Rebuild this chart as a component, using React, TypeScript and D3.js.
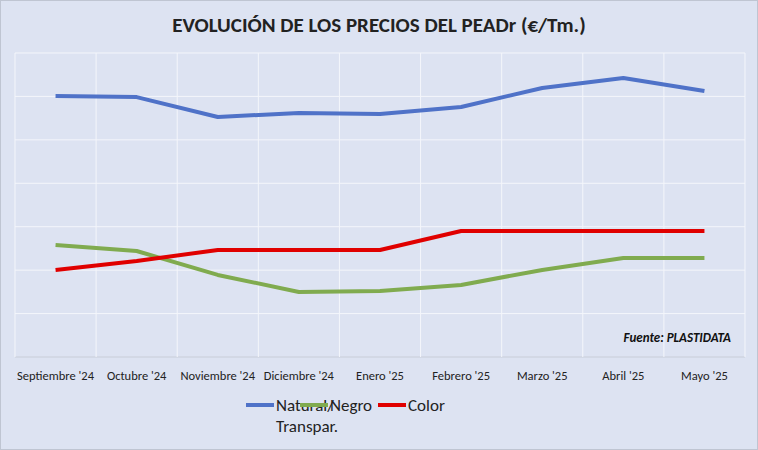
import { useEffect, useRef } from "react";
import * as d3 from "d3";

const categories = ["Septiembre '24", "Octubre '24", "Noviembre '24", "Diciembre '24", "Enero '25", "Febrero '25", "Marzo '25", "Abril '25", "Mayo '25"];
const natural = [1202, 1197, 1105, 1124, 1119, 1151, 1239, 1285, 1225];
const negro = [516, 488, 378, 299, 304, 332, 401, 456, 456];
const color = [401, 442, 493, 493, 493, 580, 580, 580, 580];
const yTicks = [0, 200, 400, 600, 800, 1000, 1200, 1400];

const series = [
  { name: "Natural/", name2: "Transpar.", values: natural, stroke: "#4f72c8" },
  { name: "Negro", name2: "", values: negro, stroke: "#80ab4f" },
  { name: "Color", name2: "", values: color, stroke: "#e00000" },
];

export default function App() {
  const ref = useRef<SVGSVGElement>(null);
  useEffect(() => {
    const svg = d3.select(ref.current);
    svg.selectAll("*").remove();
    const font = "Carlito, 'Liberation Sans', Lato, sans-serif";
    svg.append("rect").attr("x", 0.5).attr("y", 0.5).attr("width", 757).attr("height", 449)
      .attr("fill", "#dde3f2").attr("stroke", "#bfc5d2");
    const x = d3.scaleBand().domain(categories).range([15, 745]);
    const y = d3.scaleLinear().domain([0, 1400]).range([357, 53]);

    yTicks.forEach((t) => {
      svg.append("line").attr("x1", 15).attr("x2", 745).attr("y1", y(t)).attr("y2", y(t))
        .attr("stroke", t === 0 ? "#c8cdd8" : "#f4f6fb").attr("stroke-width", 1);
    });
    for (let i = 0; i <= categories.length; i++) {
      const xx = 15 + i * x.bandwidth();
      svg.append("line").attr("x1", xx).attr("x2", xx).attr("y1", 53).attr("y2", 357)
        .attr("stroke", "#f4f6fb");
    }
    categories.forEach((c) => {
      svg.append("text").attr("x", x(c)! + x.bandwidth() / 2).attr("y", 380)
        .attr("text-anchor", "middle").attr("font-size", 12.5).attr("font-family", font)
        .attr("fill", "#222").text(c);
    });

    const l = d3.line<number>().x((_, i) => x(categories[i])! + x.bandwidth() / 2).y((d) => y(d));
    series.forEach((s) => {
      svg.append("path").datum(s.values).attr("d", l).attr("fill", "none")
        .attr("stroke", s.stroke).attr("stroke-width", 4).attr("stroke-linejoin", "round");
    });

    svg.append("text").attr("x", 379).attr("y", 32).attr("text-anchor", "middle")
      .attr("font-size", 21).attr("font-weight", "bold").attr("font-family", font)
      .attr("fill", "#222").text("EVOLUCIÓN DE LOS PRECIOS DEL PEADr (€/Tm.)");
    svg.append("text").attr("x", 731).attr("y", 342).attr("text-anchor", "end")
      .attr("font-size", 13).attr("font-weight", "bold").attr("font-style", "italic")
      .attr("font-family", font).attr("fill", "#111").text("Fuente: PLASTIDATA");

    const lx = [246, 300, 378];
    series.forEach((s, i) => {
      svg.append("line").attr("x1", lx[i]).attr("x2", lx[i] + 28).attr("y1", 405).attr("y2", 405)
        .attr("stroke", s.stroke).attr("stroke-width", 4);
      svg.append("text").attr("x", lx[i] + 30).attr("y", 411)
        .attr("font-size", 17).attr("font-family", font).attr("fill", "#222").text(s.name);
      if (s.name2) svg.append("text").attr("x", lx[i] + 30).attr("y", 432)
        .attr("font-size", 17).attr("font-family", font).attr("fill", "#222").text(s.name2);
    });
  }, []);
  return <svg ref={ref} width={758} height={450} style={{ position: "absolute", left: 0, top: 0 }} />;
}
